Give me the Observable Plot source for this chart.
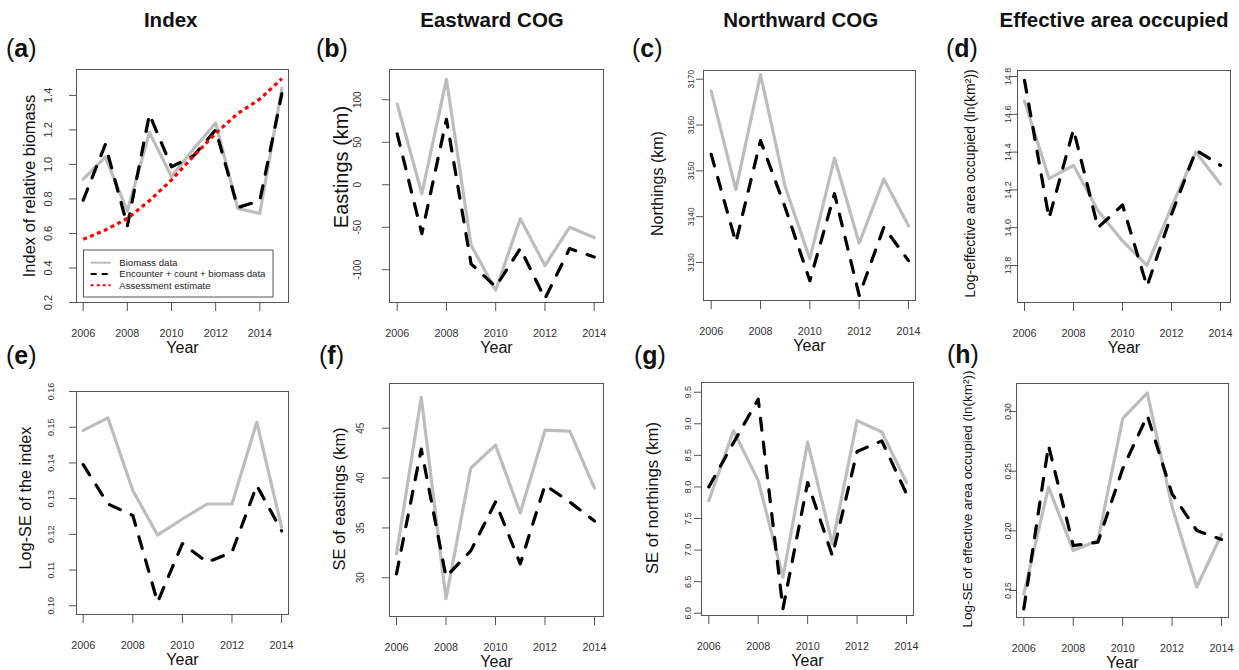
<!DOCTYPE html>
<html><head><meta charset="utf-8">
<script src="https://cdn.jsdelivr.net/npm/d3@7"></script>
<script src="https://cdn.jsdelivr.net/npm/@observablehq/plot@0.6"></script>
<style>
html,body{margin:0;padding:0;background:#fff;}
#stage{position:relative;width:1239px;height:670px;overflow:hidden;background:#fff;font-family:"Liberation Sans",Arial,sans-serif;}
#stage svg{position:absolute;}
.coltitle{position:absolute;font-weight:bold;font-size:20.5px;line-height:1;transform:translate(-50%,-50%);white-space:nowrap;color:#111;}
.letter{position:absolute;font-size:25px;line-height:1;transform:translateY(-50%);white-space:nowrap;color:#111;}
.letter b{font-weight:bold;}
</style></head><body><div id="stage"></div>
<script>
// ---------- data ----------
const years = [2006, 2007, 2008, 2009, 2010, 2011, 2012, 2013, 2014];
const yearsIndex = [2006, 2007, 2008, 2009, 2010, 2011, 2012, 2013, 2014, 2015];
const xTicks = [2006, 2008, 2010, 2012, 2014];

const columnTitles = ["Index", "Eastward COG", "Northward COG", "Effective area occupied"];
const seriesNames = ["Biomass data", "Encounter + count + biomass data", "Assessment estimate"];

// (a) index of relative biomass
const indexBiomass    = [0.915, 1.044, 0.73, 1.185, 0.93, 1.09, 1.24, 0.745, 0.716, 1.44];
const indexAll        = [0.793, 1.115, 0.645, 1.29, 0.986, 1.05, 1.20, 0.75, 0.79, 1.41];
const indexAssessment = [0.566, 0.62, 0.687, 0.79, 0.91, 1.048, 1.18, 1.295, 1.378, 1.497];
const indexTicks = [0.2, 0.4, 0.6, 0.8, 1.0, 1.2, 1.4];
const indexTickLabels = ["0.2", "0.4", "0.6", "0.8", "1.0", "1.2", "1.4"];

// (b) eastings
const eastBiomass = [95, -10.6, 124, -71, -124, -40, -95, -50, -62];
const eastAll     = [60, -57.6, 77, -93, -120, -75, -134, -75, -85];
const eastTicks = [-100, -50, 0, 50, 100];
const eastTickLabels = ["-100", "-50", "0", "50", "100"];

// (c) northings
const northBiomass = [3167.4, 3145.9, 3171, 3146.5, 3130.8, 3152.8, 3134.2, 3148.2, 3138];
const northAll     = [3153.6, 3134.4, 3156.6, 3142, 3126, 3145, 3122.8, 3137.7, 3130.4];
const northTicks = [3130, 3140, 3150, 3160, 3170];
const northTickLabels = ["3130", "3140", "3150", "3160", "3170"];

// (d) log effective area occupied
const areaBiomass = [14.67, 14.26, 14.33, 14.09, 13.93, 13.80, 14.11, 14.40, 14.23];
const areaAll     = [14.78, 14.05, 14.52, 14.0, 14.12, 13.69, 14.07, 14.41, 14.33];
const areaTicks = [13.8, 14.0, 14.2, 14.4, 14.6, 14.8];
const areaTickLabels = ["13.8", "14.0", "14.2", "14.4", "14.6", "14.8"];

// (e) log-SE of the index
const seIndexBiomass = [0.1491, 0.1526, 0.1323, 0.1198, 0.1243, 0.1285, 0.1285, 0.1514, 0.122];
const seIndexAll     = [0.1395, 0.1285, 0.1253, 0.101, 0.1174, 0.1122, 0.115, 0.1337, 0.121];
const seIndexTicks = [0.10, 0.11, 0.12, 0.13, 0.14, 0.15, 0.16];
const seIndexTickLabels = ["0.10", "0.11", "0.12", "0.13", "0.14", "0.15", "0.16"];

// (f) SE of eastings
const seEastBiomass = [32.4, 48.1, 27.9, 41.0, 43.3, 36.5, 44.8, 44.7, 39.0];
const seEastAll     = [30.4, 42.9, 30.1, 32.7, 37.6, 31.4, 39.3, 37.6, 35.7];
const seEastTicks = [30, 35, 40, 45];
const seEastTickLabels = ["30", "35", "40", "45"];

// (g) SE of northings
const seNorthBiomass = [7.78, 8.89, 8.10, 6.57, 8.71, 7.10, 9.05, 8.87, 8.07];
const seNorthAll     = [8.0, 8.7, 9.39, 6.07, 8.07, 6.91, 8.56, 8.73, 7.89];
const seNorthTicks = [6.0, 6.5, 7.0, 7.5, 8.0, 8.5, 9.0, 9.5];
const seNorthTickLabels = ["6.0", "6.5", "7.0", "7.5", "8.0", "8.5", "9.0", "9.5"];

// (h) log-SE of effective area occupied
const seAreaBiomass = [0.147, 0.2366, 0.1835, 0.192, 0.294, 0.3156, 0.22, 0.153, 0.197];
const seAreaAll     = [0.1346, 0.2715, 0.1877, 0.1905, 0.252, 0.2966, 0.231, 0.2003, 0.1927];
const seAreaTicks = [0.15, 0.20, 0.25, 0.30];
const seAreaTickLabels = ["0.15", "0.20", "0.25", "0.30"];

// ---------- layout / style ----------
const FONT = "'Liberation Sans', Arial, Helvetica, sans-serif";
const GRAY = "#bdbdbd";
const FRAME = "#555";
const ML = 64, MR = 8, MT = 8, MB = 56;

const panels = [
  {letter:"a", frame:{l:76,r:288,t:69,b:302}, xDomain:[2005.696,2015.3], yDomain:[0.2,1.55],
   yrs:yearsIndex, biomass:indexBiomass, all:indexAll, assess:indexAssessment,
   yTicks:indexTicks, yLabels:indexTickLabels, yLabOff:28, yLabSize:11,
   ylab:"Index of relative biomass", ylabOff:47, ylabSize:16.5, ylabDy:0, letterPos:[6,48]},
  {letter:"b", frame:{l:389,r:603,t:69,b:302}, xDomain:[2005.687,2014.378], yDomain:[-138.5,135.6],
   yrs:years, biomass:eastBiomass, all:eastAll,
   yTicks:eastTicks, yLabels:eastTickLabels, yLabOff:32, yLabSize:10,
   ylab:"Eastings (km)", ylabOff:48, ylabSize:20, ylabDy:-19, letterPos:[316,48]},
  {letter:"c", frame:{l:703,r:915,t:70,b:300}, xDomain:[2005.688,2014.284], yDomain:[3121.7,3171.9],
   yrs:years, biomass:northBiomass, all:northAll,
   yTicks:northTicks, yLabels:northTickLabels, yLabOff:12, yLabSize:8.3,
   ylab:"Northings (km)", ylabOff:46, ylabSize:16, ylabDy:-2, letterPos:[632,48]},
  {letter:"d", frame:{l:1017,r:1230,t:70,b:302}, xDomain:[2005.714,2014.408], yDomain:[13.604,14.832],
   yrs:years, biomass:areaBiomass, all:areaAll,
   yTicks:areaTicks, yLabels:areaTickLabels, yLabOff:9, yLabSize:9,
   ylab:"Log-effective area occupied (ln(km²))", ylabOff:47, ylabSize:14, ylabDy:-3, letterPos:[946,48]},
  {letter:"e", frame:{l:76,r:288,t:391,b:614}, xDomain:[2005.73,2014.28], yDomain:[0.09756,0.16],
   yrs:years, biomass:seIndexBiomass, all:seIndexAll,
   yTicks:seIndexTicks, yLabels:seIndexTickLabels, yLabOff:25, yLabSize:9,
   ylab:"Log-SE of the index", ylabOff:51, ylabSize:16.3, ylabDy:-5, letterPos:[6,355]},
  {letter:"f", frame:{l:389,r:603,t:383,b:616}, xDomain:[2005.717,2014.364], yDomain:[26.12,49.48],
   yrs:years, biomass:seEastBiomass, all:seEastAll,
   yTicks:seEastTicks, yLabels:seEastTickLabels, yLabOff:29, yLabSize:10,
   ylab:"SE of eastings (km)", ylabOff:50, ylabSize:16.4, ylabDy:-1, letterPos:[319,355]},
  {letter:"g", frame:{l:701,r:913,t:382,b:615}, xDomain:[2005.705,2014.283], yDomain:[5.964,9.654],
   yrs:years, biomass:seNorthBiomass, all:seNorthAll,
   yTicks:seNorthTicks, yLabels:seNorthTickLabels, yLabOff:13, yLabSize:9,
   ylab:"SE of northings (km)", ylabOff:49, ylabSize:16.7, ylabDy:-1, letterPos:[634,355]},
  {letter:"h", frame:{l:1016,r:1228,t:383,b:617}, xDomain:[2005.705,2014.283], yDomain:[0.1274,0.3235],
   yrs:years, biomass:seAreaBiomass, all:seAreaAll,
   yTicks:seAreaTicks, yLabels:seAreaTickLabels, yLabOff:8, yLabSize:8.5,
   ylab:"Log-SE of effective area occupied (ln(km²))", ylabOff:49, ylabSize:13.5, ylabDy:-1.5, letterPos:[947,354]}
];

const stage = document.getElementById("stage");
const centered = {textAnchor:"middle", lineAnchor:"middle"};

function makePanel(p) {
  const rows = (vals) => p.yrs.map((year, i) => ({year, value: vals[i]}));
  const marks = [
    Plot.line(rows(p.biomass), {x:"year", y:"value", stroke:GRAY, strokeWidth:3.2, strokeLinejoin:"round"}),
    Plot.line(rows(p.all), {x:"year", y:"value", stroke:"#000", strokeWidth:3.2, strokeDasharray:"12,12", strokeLinecap:"round"})
  ];
  if (p.assess) marks.push(Plot.line(rows(p.assess), {x:"year", y:"value", stroke:"#ff0000", strokeWidth:3.2, strokeDasharray:"4,3.5", strokeLinecap:"butt"}));
  marks.push(
    Plot.frame({stroke:FRAME, strokeWidth:1}),
    Plot.axisX(xTicks, {tickSize:9, tickFormat:() => "", stroke:FRAME, label:null}),
    Plot.text(xTicks, {x:d => d, text:d => String(d), frameAnchor:"bottom", dy:31, fontSize:10.8, fill:"#333", ...centered}),
    Plot.axisY(p.yTicks, {tickSize:7, tickFormat:() => "", stroke:FRAME, label:null}),
    Plot.text(p.yTicks, {y:d => d, text:(d, i) => p.yLabels[i], frameAnchor:"left", dx:-p.yLabOff, rotate:-90, fontSize:p.yLabSize, fill:"#333", ...centered}),
    Plot.text([p.ylab], {text:d => d, frameAnchor:"left", dx:-p.ylabOff, dy:p.ylabDy, rotate:-90, fontSize:p.ylabSize, fill:"#111", ...centered}),
    Plot.text(["Year"], {text:d => d, frameAnchor:"bottom", dy:45.5, fontSize:16, fill:"#111", ...centered})
  );
  const f = p.frame;
  const svg = Plot.plot({
    width: f.r - f.l + ML + MR,
    height: f.b - f.t + MT + MB,
    marginLeft: ML, marginRight: MR, marginTop: MT, marginBottom: MB,
    x: {domain: p.xDomain, axis: null, label: null},
    y: {domain: p.yDomain, axis: null, label: null},
    style: {fontFamily: FONT, background: "transparent", overflow: "visible"},
    marks
  });
  svg.style.left = (f.l - ML) + "px";
  svg.style.top = (f.t - MT) + "px";
  stage.appendChild(svg);

  const lt = document.createElement("div");
  lt.className = "letter";
  lt.style.left = p.letterPos[0] + "px";
  lt.style.top = p.letterPos[1] + "px";
  lt.innerHTML = "(<b>" + p.letter + "</b>)";
  stage.appendChild(lt);
}
panels.forEach(makePanel);

// column titles
const titleCenters = [170.7, 492, 800.7, 1114];
columnTitles.forEach((t, i) => {
  const d = document.createElement("div");
  d.className = "coltitle";
  d.style.left = titleCenters[i] + "px";
  d.style.top = "20px";
  d.textContent = t;
  stage.appendChild(d);
});

// legend for panel (a)
const leg = d3.create("svg").attr("width", 1239).attr("height", 670)
  .style("left", "0px").style("top", "0px").style("pointer-events", "none")
  .style("font-family", FONT);
leg.append("rect").attr("x", 83.5).attr("y", 250).attr("width", 189.5).attr("height", 47)
  .attr("fill", "#fff").attr("stroke", FRAME).attr("stroke-width", 1);
const legStyles = [
  {stroke: GRAY, dash: null, w: 2},
  {stroke: "#000", dash: "6,5", w: 2},
  {stroke: "#ff0000", dash: "3,3", w: 2}
];
const legRows = [262.7, 274, 285.3];
seriesNames.forEach((name, i) => {
  const s = legStyles[i];
  const ln = leg.append("line").attr("x1", 90.7).attr("x2", 110.7).attr("y1", legRows[i]).attr("y2", legRows[i])
    .attr("stroke", s.stroke).attr("stroke-width", s.w);
  if (s.dash) ln.attr("stroke-dasharray", s.dash);
  leg.append("text").attr("x", 119.3).attr("y", legRows[i]).attr("dy", "0.35em")
    .attr("font-size", 9.6).attr("fill", "#222").text(name);
});
stage.appendChild(leg.node());
</script>
</body></html>
